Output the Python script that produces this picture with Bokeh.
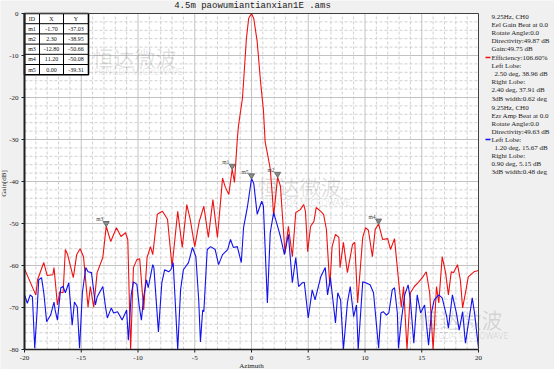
from bokeh.plotting import figure
from bokeh.models import Range1d
from bokeh.embed import file_html
from bokeh.resources import INLINE
from bokeh.core.properties import value

title_text = "4.5m paowumiantianxian1E .ams"
x_label = "Azimuth"
y_label = "Gain[dB]"

red_azimuth = [-20.0, -19.2, -19.0, -18.85, -18.3, -18.0, -17.5, -17.4, -17.1, -16.9, -16.6, -16.4, -16.2,
               -15.7, -15.4, -15.1, -14.8, -14.4, -14.2, -13.9, -13.6, -13.1, -12.8, -12.4, -11.9, -11.5,
               -11.1, -10.9, -10.65, -10.4, -10.1, -9.85, -9.5, -9.2, -8.9, -8.7, -8.3, -7.85, -7.4, -7.0,
               -6.5, -6.1, -5.7, -5.4, -5.0, -4.6, -4.2, -3.8, -3.4, -3.0, -2.55, -2.3, -2.0, -1.7, -1.5,
               -1.25, -1.15, -0.97, -0.8, -0.7, -0.45, -0.25, 0.0, 0.2, 0.5, 0.8, 1.05, 1.2, 1.45, 1.65,
               1.85, 1.95, 2.3, 2.55, 2.7, 2.95, 3.25, 3.6, 3.9, 4.3, 4.6, 4.75, 4.95, 5.2, 5.5, 5.7, 6.1,
               6.35, 6.6, 6.9, 7.1, 7.4, 7.7, 7.8, 8.1, 8.45, 8.9, 9.1, 9.35, 9.8, 10.05, 10.3, 10.65, 10.9,
               11.2, 11.55, 12.0, 12.25, 12.6, 12.95, 13.2, 13.4, 13.7, 14.0, 14.35, 14.7, 15.05, 15.4, 15.7,
               16.0, 16.3, 16.5, 16.8, 17.1, 17.35, 17.6, 17.8, 18.15, 18.4, 18.6, 18.85, 19.1, 19.6, 20.0]
red_gain = [-60.8, -65.8, -67.0, -63.4, -59.3, -62.4, -62.2, -60.5, -69.4, -66.3, -66.5, -56.2, -57.4,
            -62.9, -57.4, -56.0, -57.9, -69.9, -65.0, -69.9, -61.7, -58.1, -50.66, -54.3, -51.0, -53.1,
            -52.2, -53.8, -80.0, -60.5, -58.6, -58.4, -70.6, -58.1, -55.5, -57.4, -47.8, -47.1, -49.0, -60.3,
            -47.1, -55.7, -45.5, -49.0, -55.5, -49.5, -45.9, -53.3, -44.3, -53.3, -39.2, -41.4, -43.1, -37.03, -40.2,
            -29.9, -26.8, -23.4, -20.3, -16.3, -6.0, -1.2, 0.0, -1.2, -6.7, -16.3, -23.0, -30.5, -34.0, -37.0,
            -43.8, -48.3, -38.95, -41.1, -47.1, -57.0, -50.7, -57.9, -47.4, -46.7, -45.5, -47.1, -56.7, -50.7, -49.5, -46.2, -47.1,
            -47.8, -51.4, -65.0, -55.5, -52.6, -53.3, -60.5, -54.5, -61.7, -55.0, -54.5, -68.9, -53.3, -51.0, -51.6, -57.9, -51.4,
            -50.08, -53.8, -53.6, -56.2, -53.6, -63.4, -69.9, -65.0, -80.0, -66.5, -65.0, -64.0, -62.9, -61.5, -66.5,
            -80.0, -65.0, -68.9, -57.9, -61.7, -67.0, -61.5, -61.7, -59.8, -63.4, -70.1, -66.5, -62.7, -61.5, -61.2]

blue_azimuth = [-20.0, -19.75, -19.5, -19.3, -19.1, -18.9, -18.75, -18.5, -18.3, -18.05, -17.7, -17.4, -17.3,
                -17.1, -16.8, -16.6, -16.4, -16.1, -15.8, -15.6, -15.35, -15.15, -14.9, -14.6, -14.4, -14.1,
                -13.75, -13.6, -13.1, -12.85, -12.7, -12.35, -12.15, -11.8, -11.4, -11.0, -10.85, -10.6, -10.4,
                -10.1, -9.9, -9.7, -9.5, -9.25, -9.1, -8.7, -8.6, -8.2, -7.9, -7.65, -7.3, -7.1, -6.9, -6.5,
                -6.25, -6.0, -5.55, -5.2, -4.9, -4.65, -4.5, -4.3, -4.2, -3.9, -3.6, -3.2, -2.9, -2.55, -2.1,
                -1.85, -1.6, -1.25, -0.9, -0.7, -0.35, 0.0, 0.2, 0.5, 0.9, 1.05, 1.4, 1.65, 1.95, 2.3, 2.55,
                2.9, 3.25, 3.6, 3.9, 4.15, 4.5, 4.65, 5.0, 5.35, 5.6, 6.1, 6.5, 6.7, 6.95, 7.4, 7.6, 7.85,
                8.1, 8.45, 8.7, 9.0, 9.25, 9.4, 9.8, 10.05, 10.45, 10.75, 11.2, 11.4, 11.6, 11.9, 12.1, 12.4,
                12.6, 12.85, 12.95, 13.2, 13.5, 13.8, 14.0, 14.3, 14.6, 14.9, 15.25, 15.6, 15.85, 16.1, 16.5,
                16.8, 17.2, 17.35, 17.7, 18.05, 18.3, 18.6, 18.85, 19.2, 19.45, 19.65, 20.0]
blue_gain = [-67.0, -69.0, -67.0, -67.5, -79.7, -71.3, -63.4, -62.9, -66.5, -73.4, -71.8, -68.7, -70.6,
             -73.0, -65.3, -65.0, -66.5, -64.1, -74.2, -68.7, -69.9, -79.7, -66.5, -60.5, -61.5, -61.7,
             -69.4, -67.5, -65.0, -70.1, -72.5, -70.1, -71.3, -71.0, -73.0, -70.6, -77.8, -67.0, -63.9,
             -64.5, -69.5, -73.0, -67.5, -63.4, -65.3, -59.8, -60.5, -75.8, -64.1, -61.0, -61.5, -61.0, -59.3, -80.0,
             -65.8, -61.0, -59.3, -55.7, -57.9, -68.2, -78.2, -70.6, -71.0, -56.2, -55.5, -56.2, -59.8, -57.4, -56.2,
             -53.8, -55.7, -55.5, -59.3, -51.0, -45.9, -39.31, -40.5, -47.8, -44.7, -45.9, -68.9, -52.2, -47.4, -50.7, -53.1,
             -57.4, -52.6, -64.1, -58.1, -65.0, -64.1, -64.0, -72.5, -65.8, -68.2, -62.7, -60.5, -67.0, -62.9, -73.7, -66.5, -68.2,
             -80.0, -68.9, -65.0, -72.2, -69.4, -80.0, -63.9, -64.1, -64.6, -66.5, -79.7, -71.3, -71.0, -71.8, -71.3, -65.8,
             -65.3, -71.3, -79.7, -73.0, -67.0, -64.6, -68.2, -78.5, -67.0, -71.3, -69.4, -79.0, -71.3, -68.2, -67.0,
             -67.7, -72.2, -74.9, -67.0, -71.3, -75.4, -71.0, -78.5, -72.2, -67.7, -71.3, -79.7]

marker_ids = ["m1", "m2", "m3", "m4", "m5"]
marker_x = [-1.70, 2.30, -12.80, 11.20, 0.00]
marker_y = [-37.03, -38.95, -50.66, -50.08, -39.31]
marker_x_text = ["-1.70", "2.30", "-12.80", "11.20", "0.00"]
marker_y_text = ["-37.03", "-38.95", "-50.66", "-50.08", "-39.31"]
table_header = ["ID", "X", "Y"]

x_ticks = list(range(-20, 21, 5))
y_ticks = list(range(-80, 1, 10))
x_tick_labels = [str(v) for v in x_ticks]
y_tick_labels = [str(v) for v in y_ticks]
x_minor = list(range(-20, 21))
y_minor = list(range(-80, 1, 2))

red_info = ["9.25Hz, CH0", "Eel Gain Beat at 0.0", "Rotate Angle:0.0", "Directivity:49.87 dB",
            "Gain:49.75 dB", "Efficiency:106.60%", "Left Lobe:", "2.50 deg,   38.96 dB",
            "Right Lobe:", "2.40 deg,  37.91 dB", "3dB width:0.62 deg"]
red_info_indent = [0, 0, 0, 0, 0, 0, 0, 3, 0, 0, 0]
blue_info = ["9.25Hz, CH0", "Ezr Amp Beat at 0.0", "Rotate Angle:0.0", "Directivity:49.63 dB",
             "Left Lobe:", "1.20 deg,   15.67 dB", "Right Lobe:", "0.90 deg,  5.15 dB", "3dB width:0.48 deg"]
blue_info_indent = [0, 0, 0, 0, 0, 3, 0, 0, 0]
watermark_cn = "恒达微波"
watermark_en = "HENGDA MICROWAVE"

# ---------------- layout (page pixels; the figure fills the window) ----------------
W, H = 554, 369
XMIN, XMAX, YMIN, YMAX = -20, 20, -80, 0
PLOT_L, PLOT_R = 24, 478
PLOT_T, PLOT_B = 13, 349
PXX = (PLOT_R - PLOT_L) / (XMAX - XMIN)
PXY = (PLOT_B - PLOT_T) / (YMAX - YMIN)
X0 = XMIN - PLOT_L / PXX
X1 = XMAX + (W - PLOT_R) / PXX
Y1 = YMAX + PLOT_T / PXY
Y0 = YMIN - (H - PLOT_B) / PXY

def gx(px):  # pixel x -> data x
    return X0 + px / PXX

def gy(py):  # pixel y -> data y
    return Y1 - py / PXY

SERIF = "Liberation Serif"
RED = "#ee1111"
BLUE = "#1111ee"
INK = "#202020"

p = figure(width=W, height=H, x_range=Range1d(X0, X1), y_range=Range1d(Y0, Y1),
           output_backend="svg", toolbar_location=None, x_axis_location=None, y_axis_location=None,
           min_border=0, title=None)
p.outline_line_color = None
p.background_fill_color = "#f0f0f0"
p.border_fill_color = "#f0f0f0"
p.grid.visible = False

# plot area
p.quad(left=XMIN, right=XMAX, top=YMAX, bottom=YMIN, fill_color="white", line_color=None)

# grid
mx = [v for v in x_minor if v not in x_ticks]
my = [v for v in y_minor if v not in y_ticks]
p.segment(x0=mx, x1=mx, y0=[YMIN] * len(mx), y1=[YMAX] * len(mx), line_color="#d0d0d0",
          line_width=1, line_dash="3 2")
p.segment(x0=[XMIN] * len(my), x1=[XMAX] * len(my), y0=my, y1=my, line_color="#d0d0d0",
          line_width=1, line_dash="3 2")
Mx = x_ticks[1:-1]
My = y_ticks[1:-1]
p.segment(x0=Mx, x1=Mx, y0=[YMIN] * len(Mx), y1=[YMAX] * len(Mx), line_color="#c2c2c2", line_width=1)
p.segment(x0=[XMIN] * len(My), x1=[XMAX] * len(My), y0=My, y1=My, line_color="#c2c2c2", line_width=1)

# watermarks (faint)
wm_cn_pos = [(92, 56), (257, 185), (418, 318)]
wm_en_pos = [(94, 71), (262, 202), (420, 335)]
p.text([gx(a) for a, b in wm_cn_pos], [gy(b) for a, b in wm_cn_pos], text=[watermark_cn] * 3,
       text_font=value("Noto Sans CJK SC"), text_font_size="21px", text_color="#000000", text_alpha=0.13,
       text_baseline="middle", text_align="left")
p.text([gx(a) for a, b in wm_en_pos], [gy(b) for a, b in wm_en_pos], text=[watermark_en] * 3,
       text_font=value("Noto Sans"), text_font_size="8.5px", text_color="#000000", text_alpha=0.13,
       text_baseline="middle", text_align="left")

# curves
p.line(red_azimuth, red_gain, line_color=RED, line_width=1.1)
p.line(blue_azimuth, blue_gain, line_color=BLUE, line_width=1.1)

# markers
tri_off = 3 / PXY
p.scatter(marker_x, [y + tri_off for y in marker_y], marker="inverted_triangle",
          size=6, fill_color="#8a8a8a", line_color="#6a6a6a")
p.text(marker_x, [y + tri_off for y in marker_y], text=marker_ids, text_font=value(SERIF),
       text_font_size="5.5px", text_color="#404040", text_align="right", text_baseline="bottom",
       x_offset=-3, y_offset=-1)

# marker table in the top-left corner
col_px = [0, 15, 39, 64]
row_h = 10.2
n_rows = len(marker_ids) + 1
tx = [XMIN + c / PXX for c in col_px]
ty = [YMAX - r * row_h / PXY for r in range(n_rows + 1)]
p.quad(left=tx[0], right=tx[-1], top=ty[0], bottom=ty[-1], fill_color="white", line_color="black",
       line_width=1.6)
p.segment(x0=[tx[0]] * (n_rows - 1), x1=[tx[-1]] * (n_rows - 1), y0=ty[1:-1], y1=ty[1:-1],
          line_color="black", line_width=1)
p.segment(x0=tx[1:-1], x1=tx[1:-1], y0=[ty[0]] * 2, y1=[ty[-1]] * 2, line_color="black", line_width=1)
cell_x, cell_y, cell_t = [], [], []
rows = [table_header] + [[marker_ids[i], marker_x_text[i], marker_y_text[i]] for i in range(len(marker_ids))]
for r, row in enumerate(rows):
    for c, t in enumerate(row):
        cell_x.append((tx[c] + tx[c + 1]) / 2)
        cell_y.append((ty[r] + ty[r + 1]) / 2)
        cell_t.append(t)
p.text(cell_x, cell_y, text=cell_t, text_font=value(SERIF), text_font_size="6px", text_color="#111111",
       text_align="center", text_baseline="middle")

# frame border
p.segment(x0=[XMIN, XMIN], x1=[XMAX, XMAX], y0=[YMAX, YMIN], y1=[YMAX, YMIN],
          line_color=["#404040", INK], line_width=[1, 1.5])
p.segment(x0=[XMAX, XMIN], x1=[XMAX, XMIN], y0=[YMIN, YMIN], y1=[YMAX, YMAX],
          line_color=["#404040", INK], line_width=[1, 2])

# ticks and tick labels
p.segment(x0=x_ticks, x1=x_ticks, y0=[YMIN] * len(x_ticks), y1=[YMIN - 3 / PXY] * len(x_ticks),
          line_color=INK, line_width=1)
p.segment(x0=[XMIN] * len(y_ticks), x1=[XMIN - 3 / PXX] * len(y_ticks), y0=y_ticks, y1=y_ticks,
          line_color=INK, line_width=1)
p.text(x_ticks, [YMIN - 8.5 / PXY] * len(x_ticks), text=x_tick_labels, text_font=value(SERIF),
       text_font_size="7px", text_color=INK, text_align="center", text_baseline="middle")
p.text([XMIN - 6 / PXX] * len(y_ticks), y_ticks, text=y_tick_labels, text_font=value(SERIF),
       text_font_size="7px", text_color=INK, text_align="right", text_baseline="middle")

# axis labels and title
p.text([0], [YMIN - 16 / PXY], text=[x_label], text_font=value(SERIF), text_font_size="7px",
       text_color=INK, text_align="center", text_baseline="middle")
p.text([gx(3.5)], [gy(183)], text=[y_label], text_font=value(SERIF), text_font_size="7px",
       text_color=INK, text_align="center", text_baseline="middle", angle=1.5708)
p.text([gx(252)], [gy(5.5)], text=[title_text], text_font=value("Liberation Mono"),
       text_font_size="9px", text_color=INK, text_align="center", text_baseline="middle")

# info panel on the right
TEXT_X = 491
p.text([gx(TEXT_X + d) for d in red_info_indent], [gy(16 + 8.2 * i) for i in range(len(red_info))],
       text=red_info, text_font=value(SERIF), text_font_size="7px", text_color=INK,
       text_baseline="middle", text_align="left")
p.text([gx(TEXT_X + d) for d in blue_info_indent], [gy(107 + 8.1 * i) for i in range(len(blue_info))],
       text=blue_info, text_font=value(SERIF), text_font_size="7px", text_color=INK,
       text_baseline="middle", text_align="left")
p.segment(x0=[gx(485), gx(485)], x1=[gx(490), gx(490)], y0=[gy(57), gy(139)], y1=[gy(57), gy(139)],
          line_color=[RED, BLUE], line_width=1.6)

html = file_html(p, INLINE)
html = html.replace("<body>", '<body style="background-color:#f0f0f0;">', 1)
open("out.html", "w").write(html)
